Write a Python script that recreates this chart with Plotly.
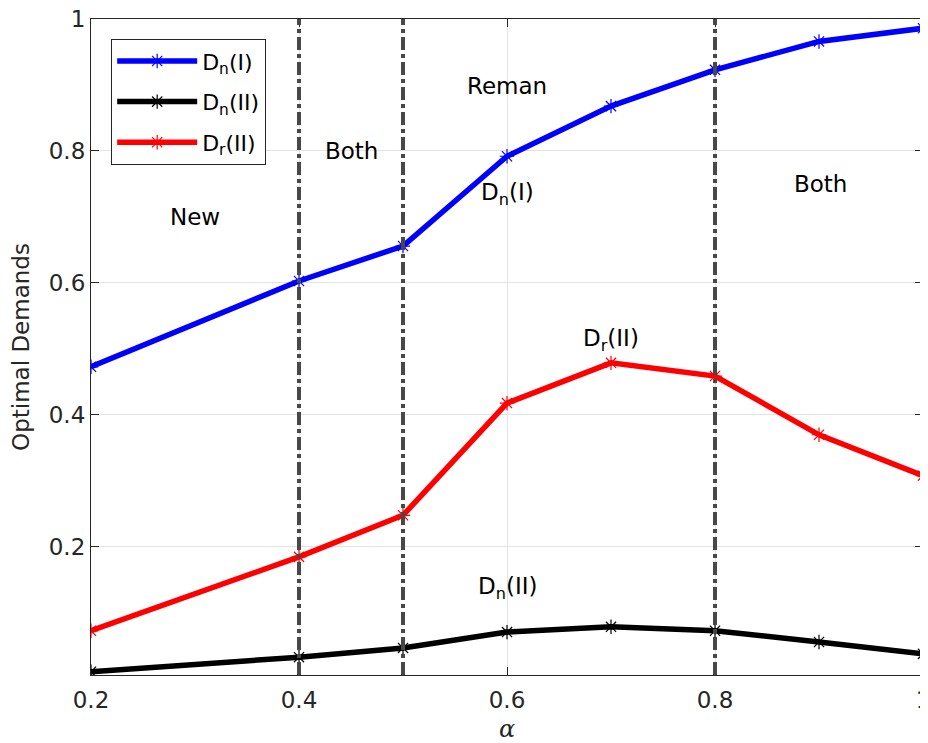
import plotly.graph_objects as go

alpha = [0.2, 0.4, 0.5, 0.6, 0.7, 0.8, 0.9, 1.0]
dn_I = [0.473, 0.603, 0.656, 0.792, 0.868, 0.923, 0.966, 0.986]
dn_II = [0.011, 0.033, 0.047, 0.071, 0.079, 0.073, 0.056, 0.038]
dr_II = [0.073, 0.185, 0.248, 0.418, 0.479, 0.459, 0.370, 0.308]
boundaries = [0.4, 0.5, 0.8]
region_labels = ["New", "Both", "Reman", "Both"]
region_pos = [(0.300, 0.700), (0.450, 0.800), (0.600, 0.898), (0.901, 0.750)]
curve_labels = ["D<sub>n</sub>(I)", "D<sub>r</sub>(II)", "D<sub>n</sub>(II)"]
curve_pos = [(0.600, 0.735), (0.700, 0.514), (0.600, 0.138)]
x_ticks = [0.2, 0.4, 0.6, 0.8, 1.0]
x_tick_text = ["0.2", "0.4", "0.6", "0.8", "1"]
y_ticks = [0.2, 0.4, 0.6, 0.8, 1.0]
y_tick_text = ["0.2", "0.4", "0.6", "0.8", "1"]

FONT = "DejaVu Sans"
fig = go.Figure()

for xv in boundaries:
    fig.add_shape(type="line", x0=xv, x1=xv, xref="x", y0=0, y1=1, yref="paper",
                  line=dict(color="#484848", width=4, dash="13px,4px,4px,4px"), layer="above")

series = [("D<sub>n</sub>(I)", dn_I, "#0000ff"),
          ("D<sub>n</sub>(II)", dn_II, "#000000"),
          ("D<sub>r</sub>(II)", dr_II, "#ff0000")]
for i, (name, ys, col) in enumerate(series):
    fig.add_trace(go.Scatter(
        x=alpha, y=ys, name=name, mode="lines+markers", legendgroup=f"g{i}",
        line=dict(color=col, width=5.5),
        marker=dict(symbol="asterisk-open", size=12, color=col,
                    line=dict(color=col, width=1.2)),
    ))

for t, (xv, yv) in zip(region_labels, region_pos):
    fig.add_annotation(x=xv, y=yv, text=t, showarrow=False,
                       font=dict(family=FONT, size=23, color="#000000"))
for t, (xv, yv) in zip(curve_labels, curve_pos):
    fig.add_annotation(x=xv, y=yv, text=t, showarrow=False,
                       font=dict(family=FONT, size=23, color="#000000"))

axis_common = dict(showline=True, linecolor="#262626", linewidth=1.2, mirror="ticks",
                   showgrid=True, gridcolor="#e3e3e3", gridwidth=1,
                   ticks="inside", ticklen=8, tickcolor="#262626", zeroline=False,
                   automargin=False, ticklabeloverflow="allow",
                   tickfont=dict(family=FONT, size=23, color="#262626"))

# page body adds an 8px offset; margins compensate so the plot area matches the reference
fig.update_layout(
    width=920, height=735,
    margin=dict(l=83, r=5, t=11, b=68),
    paper_bgcolor="white", plot_bgcolor="white",
    font=dict(family=FONT, color="#262626"),
    xaxis=dict(range=[0.2, 1.0], tickvals=x_ticks, ticktext=x_tick_text,
               ticklabelstandoff=4,
               title=dict(text="<i>α</i>", font=dict(family="DejaVu Serif", size=24), standoff=19),
               **axis_common),
    yaxis=dict(range=[0.006, 1.0], tickvals=y_ticks, ticktext=y_tick_text,
               title=dict(text="Optimal Demands", font=dict(family=FONT, size=23), standoff=21),
               **axis_common),
    legend=dict(x=0.024, y=0.9695, xanchor="left", yanchor="top",
                bgcolor="white", bordercolor="#262626", borderwidth=1.2,
                font=dict(family=FONT, size=22, color="#000000"),
                itemwidth=80, tracegroupgap=9),
    showlegend=True,
)

fig.write_html("out.html")
